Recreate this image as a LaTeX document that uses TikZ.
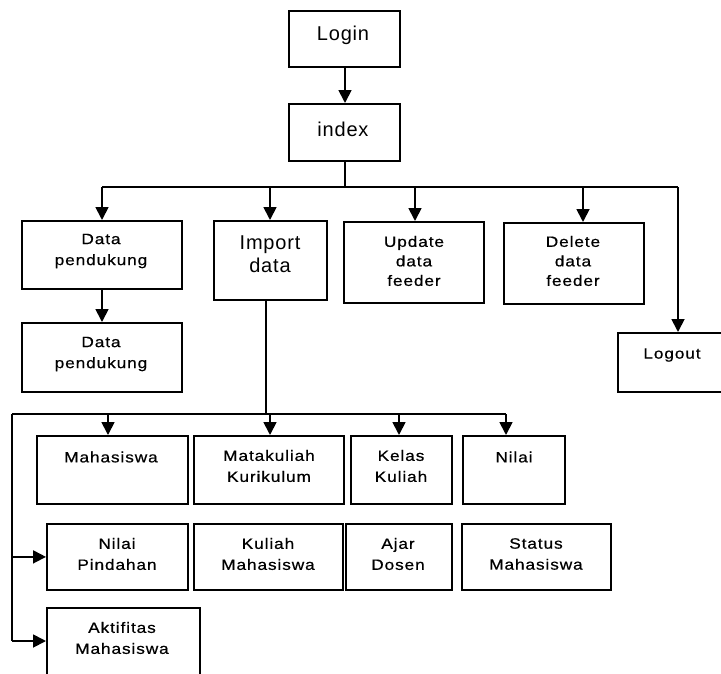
\documentclass[tikz,border=0pt]{standalone}
\usepackage{fontspec}
\setmainfont{Liberation Sans}
\newfontfamily\smallf[FakeStretch=1.15,LetterSpace=6,FakeBold=0.6]{Liberation Sans}
\newfontfamily\bigf[LetterSpace=4]{Liberation Sans}
\usetikzlibrary{arrows.meta}
\begin{document}
\begin{tikzpicture}[x=1pt,y=-1pt,
  box/.style={draw=black,line width=1.8pt,rectangle,inner sep=0pt},
  st/.style={align=center,inner sep=0pt,font=\smallf\fontsize{15}{21}\selectfont},
  st3/.style={align=center,inner sep=0pt,font=\smallf\fontsize{15}{19.5}\selectfont},
  bt/.style={align=center,inner sep=0pt,font=\bigf\fontsize{20}{23}\selectfont},
  ln/.style={line width=1.8pt},
  arr/.style={line width=1.8pt,-{Triangle[width=13pt,length=13pt]}}]
\useasboundingbox (0,0) rectangle (721,673);
\clip (0,0) rectangle (721,673);
% boxes
\newcommand\bx[5]{\node[box,anchor=north west,minimum width=#4-#2,minimum height=#5-#3] (#1) at (#2,#3) {};}
\bx{login}{288}{10}{399}{66}
\bx{index}{288}{103}{399}{160}
\bx{dpa}{21}{220}{181}{288}
\bx{dpb}{21}{322}{181}{391}
\bx{imp}{213}{220}{326}{299}
\bx{upd}{343}{221}{483}{302}
\bx{del}{503}{222}{643}{303}
\bx{logout}{617}{332}{740}{391}
\bx{mhs}{36}{435}{187}{503}
\bx{mk}{193}{435}{343}{503}
\bx{kk}{350}{435}{451}{503}
\bx{nilai}{462}{435}{564}{503}
\bx{np}{46}{523}{187}{589}
\bx{kmhs}{193}{523}{342}{589}
\bx{ajar}{345}{523}{451}{589}
\bx{status}{461}{523}{610}{589}
\bx{akt}{46}{607}{199}{700}
% texts
\node[bt] (tlogin) at (343,35) {Login};
\node[bt] (tindex) at (343,129) {index};
\node[bt] (timp) at (270,254) {Import\\data};
\node[st] (tdpa) at (101,251) {Data\\pendukung};
\node[st] (tdpb) at (101,354) {Data\\pendukung};
\node[st3] (tupd) at (414,261) {Update\\data\\feeder};
\node[st3] (tdel) at (573,261) {Delete\\data\\feeder};
\node[st] (tlogout) at (672,355) {Logout};
\node[st] (tmhs) at (111,457) {Mahasiswa};
\node[st] (tmk) at (269,466) {Matakuliah\\Kurikulum};
\node[st] (tkk) at (401,466) {Kelas\\Kuliah};
\node[st] (tnilai) at (514,457) {Nilai};
\node[st] (tnp) at (117,554) {Nilai\\Pindahan};
\node[st] (tkmhs) at (268,554) {Kuliah\\Mahasiswa};
\node[st] (tajar) at (398,554) {Ajar\\Dosen};
\node[st] (tstatus) at (536,554) {Status\\Mahasiswa};
\node[st] (takt) at (122,638) {Aktifitas\\Mahasiswa};
% top connectors
\coordinate (ub) at (345,187);
\coordinate (udp) at (102,187);
\coordinate (uimp) at (270,187);
\coordinate (uupd) at (415,187);
\coordinate (udel) at (583,187);
\coordinate (ulog) at (678,187);
\draw[arr] (login.south -| ub) -- (index.north -| ub);
\draw[ln] (index.south -| ub) -- (ub);
\draw[ln] (udp) -- (ulog);
\draw[arr] (udp) -- (udp |- dpa.north);
\draw[arr] (uimp) -- (uimp |- imp.north);
\draw[arr] (uupd) -- (uupd |- upd.north);
\draw[arr] (udel) -- (udel |- del.north);
\draw[arr] (ulog) -- (ulog |- logout.north);
\draw[arr] (dpa.south -| udp) -- (dpb.north -| udp);
% lower connectors
\coordinate (lb) at (266,414);
\coordinate (l0) at (12,414);
\coordinate (lm) at (108,414);
\coordinate (lk) at (270,414);
\coordinate (lc) at (399,414);
\coordinate (ln) at (506,414);
\coordinate (akin) at (46,641);
\draw[ln] (imp.south -| lb) -- (lb);
\draw[ln] (l0) -- (ln);
\draw[arr] (lm) -- (lm |- mhs.north);
\draw[arr] (lk) -- (lk |- mk.north);
\draw[arr] (lc) -- (lc |- kk.north);
\draw[arr] (ln) -- (ln |- nilai.north);
\draw[ln] (l0) -- (l0 |- akin);
\draw[arr] (l0 |- np.west) -- (np.west);
\draw[arr] (l0 |- akin) -- (akin);
\end{tikzpicture}
\end{document}
